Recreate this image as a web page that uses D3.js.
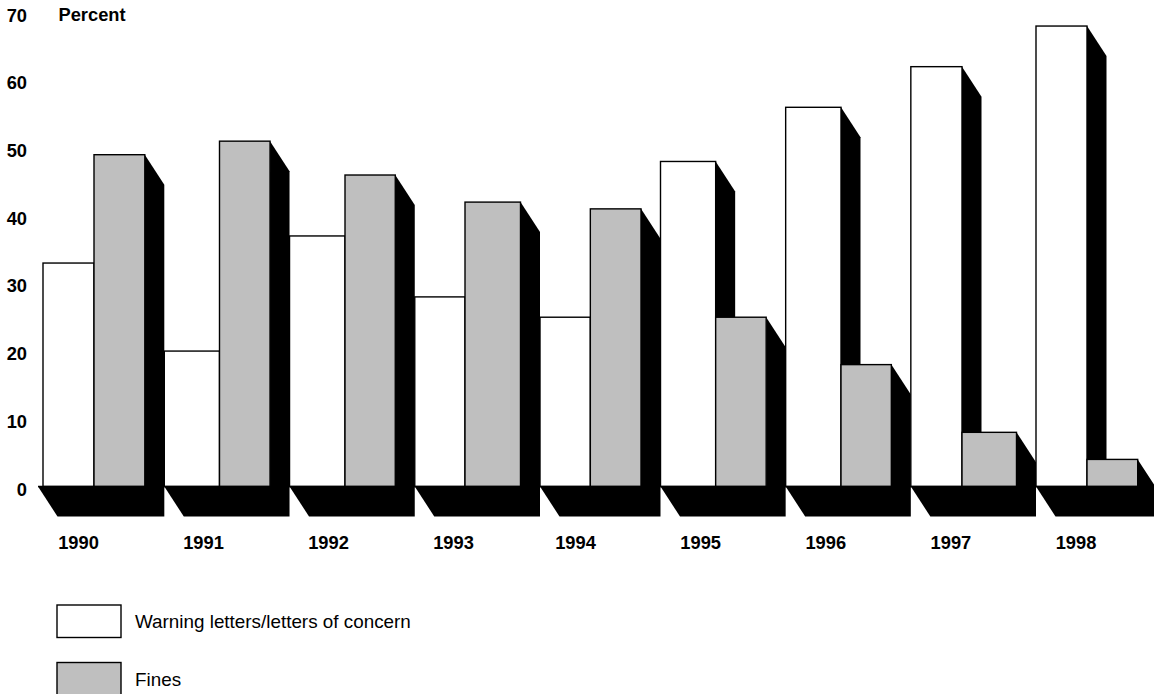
<!DOCTYPE html>
<html>
<head>
<meta charset="utf-8">
<script src="https://cdn.jsdelivr.net/npm/d3@7"></script>
<style>
body { margin: 0; background: #fff; overflow: hidden; }
text { font-family: "Liberation Sans", Arial, sans-serif; fill: #000; }
</style>
</head>
<body>
<svg></svg>
<script>
// Values
const years = [1990, 1991, 1992, 1993, 1994, 1995, 1996, 1997, 1998];
const warningLetters = [33, 20, 37, 28, 25, 48, 56, 62, 68];
const fines = [49, 51, 46, 42, 41, 25, 18, 8, 4];
const yTicks = [0, 10, 20, 30, 40, 50, 60, 70];
const legendLabels = ["Warning letters/letters of concern", "Fines"];

const width = 1154;
const height = 694;
const depthX = 19.5;
const depthY = 30;
const barGrey = "#bfbfbf";
const labelFont = '"Liberation Sans", Arial, sans-serif';

const svg = d3.select("svg")
.attr("width", width)
.attr("height", height)
.style("display", "block");

const y = d3.scaleLinear().domain([0, 70]).range([486.5, 12.5]);

// The groups in the original are not evenly spaced, hence the piecewise scales
const groupX = d3.scaleLinear()
.domain([0, 1, 4, 5, 8, 9])
.range([38, 164.3, 540, 660.5, 1036, 1157.2]);
const splitX = d3.scaleLinear()
.domain([0, 2, 3, 6, 7, 8])
.range([94, 345, 465, 841, 962, 1087]);
const labelX = d3.scaleLinear()
.domain([0, 3, 4, 8])
.range([78, 453, 575, 1075.5]);

// One entry per bar, left to right
const bars = [];
years.forEach((year, i) => {
bars.push({
value: warningLetters[i],
x0: i === 0 ? groupX(0) + 5 : groupX(i),
x1: splitX(i),
fill: "#fff"
});
bars.push({
value: fines[i],
x0: splitX(i),
x1: groupX(i + 1) - depthX,
fill: barGrey
});
});

// Floor pieces under each group
svg.append("g")
.selectAll("path")
.data(years)
.enter()
.append("path")
.attr("fill", "#000")
.attr("d", (d, i) => {
const x0 = groupX(i);
const x1 = groupX(i + 1);
return `M${x0},${y(0)}L${x1},${y(0)}L${x1},${y(0) + depthY}L${x0 + depthX},${y(0) + depthY}Z`;
});

// Black side faces, then the fronts
const bar = svg.append("g")
.selectAll("g")
.data(bars)
.enter()
.append("g");

bar.append("path")
.attr("fill", "#000")
.attr("d", d => {
const top = y(d.value);
return `M${d.x1},${top}L${d.x1 + depthX},${top + depthY}L${d.x1 + depthX},${y(0)}L${d.x1},${y(0)}Z`;
});

bar.append("rect")
.attr("x", d => d.x0)
.attr("y", d => y(d.value))
.attr("width", d => d.x1 - d.x0)
.attr("height", d => y(0) - y(d.value))
.attr("fill", d => d.fill)
.attr("stroke", "#000")
.attr("stroke-width", 1.4);

// Redraw the floor edge over the bar bottoms
svg.append("line")
.attr("x1", groupX(0))
.attr("x2", width)
.attr("y1", y(0))
.attr("y2", y(0))
.attr("stroke", "#000")
.attr("stroke-width", 1.4);

// Axes
const yAxis = svg.append("g")
.attr("transform", "translate(27,0)")
.call(d3.axisLeft(y).tickValues(yTicks).tickSize(0).tickPadding(0));
yAxis.select(".domain").remove();
yAxis.selectAll("text")
.attr("dy", 8.5)
.style("font-size", "18.3px")
.style("font-weight", "bold")
.style("font-family", labelFont);

const xAxis = svg.append("g")
.attr("transform", "translate(0,537)")
.call(d3.axisBottom(labelX)
.tickValues(d3.range(years.length))
.tickFormat(i => years[i])
.tickSize(0)
.tickPadding(0));
xAxis.select(".domain").remove();
xAxis.selectAll("text")
.attr("dy", 0)
.attr("y", 12)
.style("font-size", "18.3px")
.style("font-weight", "bold")
.style("font-family", labelFont);

svg.append("text")
.attr("x", 58.5)
.attr("y", 21)
.style("font-size", "18.3px")
.style("font-weight", "bold")
.text("Percent");

// Legend
const legendY = d3.scalePoint().domain(legendLabels).range([605, 662.5]);
const legend = svg.append("g")
.selectAll("g")
.data(legendLabels)
.enter()
.append("g")
.attr("transform", d => `translate(57,${legendY(d)})`);

legend.append("rect")
.attr("width", 64)
.attr("height", 32.5)
.attr("fill", (d, i) => i === 0 ? "#fff" : barGrey)
.attr("stroke", "#000")
.attr("stroke-width", 1.4);

legend.append("text")
.attr("x", 78)
.attr("y", 23)
.style("font-size", "18.85px")
.text(d => d);
</script>
</body>
</html>
